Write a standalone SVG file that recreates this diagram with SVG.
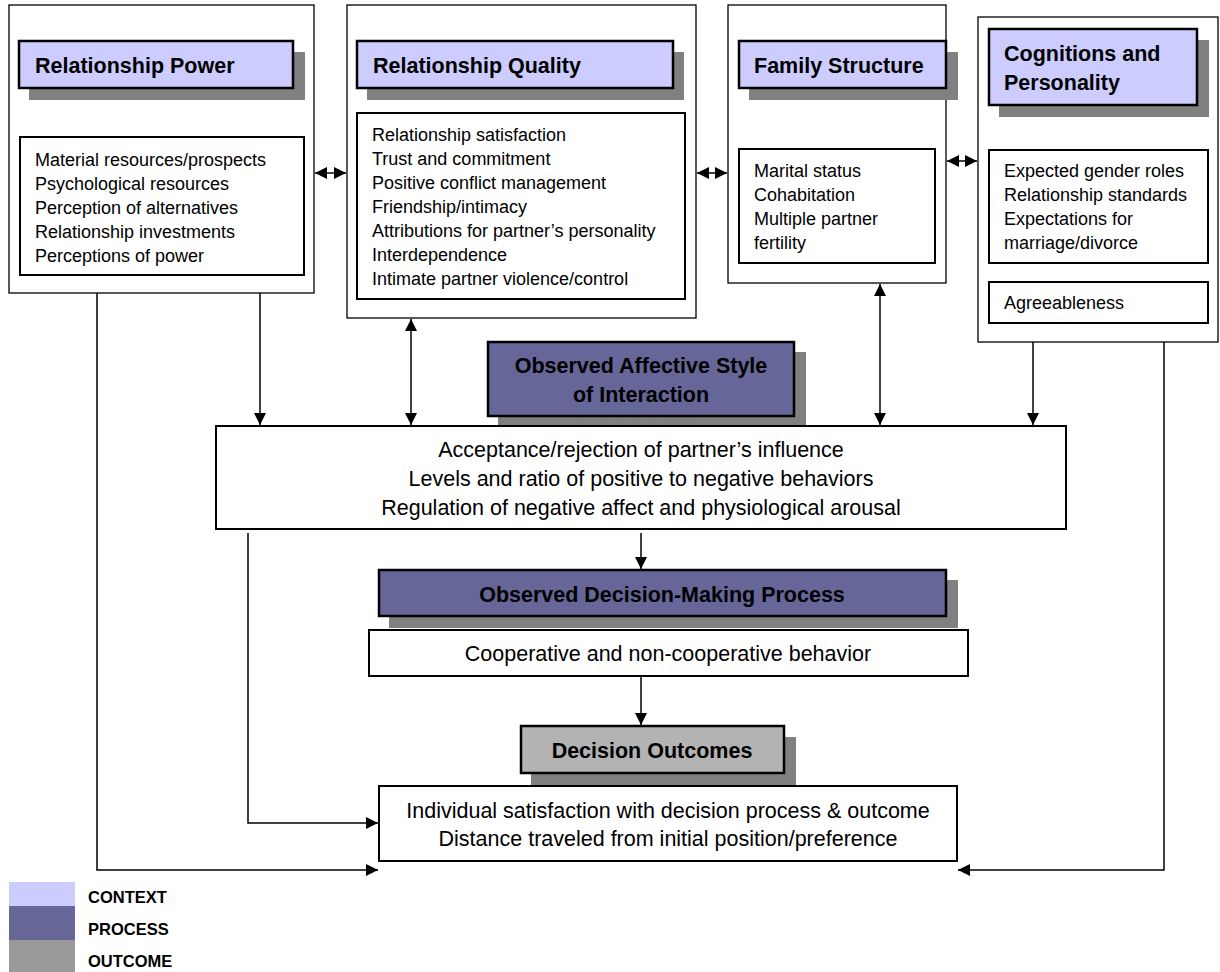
<svg xmlns="http://www.w3.org/2000/svg" width="1220" height="972" viewBox="0 0 1220 972">
<defs>
<style>
text{font-family:"Liberation Sans",Arial,sans-serif;fill:#000}
.outer{fill:#fff;stroke:#000;stroke-width:1.3}
.inner{fill:#fff;stroke:#000;stroke-width:2}
.shadow{fill:#808080}
.ctx{fill:#ccccff;stroke:#000;stroke-width:2.5}
.proc{fill:#666699;stroke:#000;stroke-width:2.5}
.out{fill:#b3b3b3;stroke:#000;stroke-width:2.5}
.hd{font-size:21.5px;font-weight:bold}
.li{font-size:18px}
.big{font-size:21.5px}
.leg{font-size:16.5px;font-weight:bold}
.conn{fill:none;stroke:#000;stroke-width:1.5}
</style>
<marker id="ah" viewBox="0 0 10 10" refX="10" refY="5" markerWidth="12" markerHeight="12" markerUnits="userSpaceOnUse" orient="auto-start-reverse"><path d="M0,0 L10,5 L0,10 Z" fill="#000"/></marker>
</defs>

<g id="relationship-power">
<rect class="outer" x="9" y="5" width="305" height="288"/>
<rect class="shadow" x="29" y="52" width="276" height="48"/>
<rect class="ctx" x="19" y="41" width="274" height="47"/>
<text class="hd" x="35" y="73">Relationship Power</text>
<rect class="inner" x="20" y="137" width="284" height="138"/>
<text class="li" x="35" y="166">Material resources/prospects</text>
<text class="li" x="35" y="190">Psychological resources</text>
<text class="li" x="35" y="214">Perception of alternatives</text>
<text class="li" x="35" y="238">Relationship investments</text>
<text class="li" x="35" y="262">Perceptions of power</text>
</g>

<g id="relationship-quality">
<rect class="outer" x="347" y="5" width="349" height="313"/>
<rect class="shadow" x="367" y="52" width="317" height="48"/>
<rect class="ctx" x="357" y="41" width="316" height="47"/>
<text class="hd" x="373" y="73">Relationship Quality</text>
<rect class="inner" x="357" y="113" width="328" height="186"/>
<text class="li" x="372" y="141">Relationship satisfaction</text>
<text class="li" x="372" y="165">Trust and commitment</text>
<text class="li" x="372" y="189">Positive conflict management</text>
<text class="li" x="372" y="213">Friendship/intimacy</text>
<text class="li" x="372" y="237">Attributions for partner’s personality</text>
<text class="li" x="372" y="261">Interdependence</text>
<text class="li" x="372" y="285">Intimate partner violence/control</text>
</g>

<g id="family-structure">
<rect class="outer" x="728" y="5" width="218" height="278"/>
<rect class="shadow" x="749" y="52" width="209" height="48"/>
<rect class="ctx" x="739" y="41" width="207" height="47"/>
<text class="hd" x="754" y="73">Family Structure</text>
<rect class="inner" x="739" y="149" width="196" height="114"/>
<text class="li" x="754" y="177">Marital status</text>
<text class="li" x="754" y="201">Cohabitation</text>
<text class="li" x="754" y="225">Multiple partner</text>
<text class="li" x="754" y="249">fertility</text>
</g>

<g id="cognitions-personality">
<rect class="outer" x="978" y="17" width="240" height="325"/>
<rect class="shadow" x="999" y="40" width="210" height="77"/>
<rect class="ctx" x="989" y="29" width="208" height="76"/>
<text class="hd" x="1004" y="61">Cognitions and</text>
<text class="hd" x="1004" y="90">Personality</text>
<rect class="inner" x="989" y="150" width="219" height="113"/>
<text class="li" x="1004" y="177">Expected gender roles</text>
<text class="li" x="1004" y="201">Relationship standards</text>
<text class="li" x="1004" y="225">Expectations for</text>
<text class="li" x="1004" y="249">marriage/divorce</text>
<rect class="inner" x="989" y="282" width="219" height="41"/>
<text class="li" x="1004" y="309">Agreeableness</text>
</g>

<g id="affective-style">
<rect class="shadow" x="498" y="352" width="308" height="76"/>
<rect class="proc" x="488" y="342" width="306" height="74"/>
<text class="hd" x="641" y="373" text-anchor="middle">Observed Affective Style</text>
<text class="hd" x="641" y="402" text-anchor="middle">of Interaction</text>
</g>

<g id="interaction-behaviors">
<rect class="inner" x="216" y="426" width="850" height="103"/>
<text class="big" x="641" y="457" text-anchor="middle">Acceptance/rejection of partner’s influence</text>
<text class="big" x="641" y="486" text-anchor="middle">Levels and ratio of positive to negative behaviors</text>
<text class="big" x="641" y="515" text-anchor="middle">Regulation of negative affect and physiological arousal</text>
</g>

<g id="decision-process">
<rect class="shadow" x="389" y="580" width="569" height="48"/>
<rect class="proc" x="379" y="570" width="567" height="46"/>
<text class="hd" x="662" y="602" text-anchor="middle">Observed Decision-Making Process</text>
</g>

<g id="cooperative-behavior">
<rect class="inner" x="369" y="630" width="599" height="46"/>
<text class="big" x="668" y="661" text-anchor="middle">Cooperative and non-cooperative behavior</text>
</g>

<g id="decision-outcomes">
<rect class="shadow" x="531" y="737" width="265" height="48"/>
<rect class="out" x="521" y="726" width="263" height="47"/>
<text class="hd" x="652" y="758" text-anchor="middle">Decision Outcomes</text>
</g>

<g id="outcome-measures">
<rect class="inner" x="379" y="786" width="578" height="75"/>
<text class="big" x="668" y="818" text-anchor="middle">Individual satisfaction with decision process &amp; outcome</text>
<text class="big" x="668" y="846" text-anchor="middle">Distance traveled from initial position/preference</text>
</g>

<g id="connectors">
<line class="conn" x1="315" y1="173" x2="346" y2="173" marker-start="url(#ah)" marker-end="url(#ah)"/>
<line class="conn" x1="697" y1="173" x2="727" y2="173" marker-start="url(#ah)" marker-end="url(#ah)"/>
<line class="conn" x1="947" y1="161" x2="977" y2="161" marker-start="url(#ah)" marker-end="url(#ah)"/>
<line class="conn" x1="260" y1="293" x2="260" y2="425" marker-end="url(#ah)"/>
<line class="conn" x1="411" y1="319" x2="411" y2="425" marker-start="url(#ah)" marker-end="url(#ah)"/>
<line class="conn" x1="880" y1="284" x2="880" y2="425" marker-start="url(#ah)" marker-end="url(#ah)"/>
<line class="conn" x1="1033" y1="342" x2="1033" y2="425" marker-end="url(#ah)"/>
<line class="conn" x1="641" y1="533" x2="641" y2="569" marker-end="url(#ah)"/>
<line class="conn" x1="641" y1="677" x2="641" y2="725" marker-end="url(#ah)"/>
<polyline class="conn" points="97,293 97,870 378,870" marker-end="url(#ah)"/>
<polyline class="conn" points="248,533 248,823 378,823" marker-end="url(#ah)"/>
<polyline class="conn" points="1164,342 1164,870 958,870" marker-end="url(#ah)"/>
</g>

<g id="legend">
<rect x="9" y="882" width="66" height="24" fill="#ccccff"/>
<rect x="9" y="906" width="66" height="34" fill="#666699"/>
<rect x="9" y="940" width="66" height="32" fill="#999999"/>
<text class="leg" x="88" y="903">CONTEXT</text>
<text class="leg" x="88" y="935">PROCESS</text>
<text class="leg" x="88" y="967">OUTCOME</text>
</g>
</svg>
